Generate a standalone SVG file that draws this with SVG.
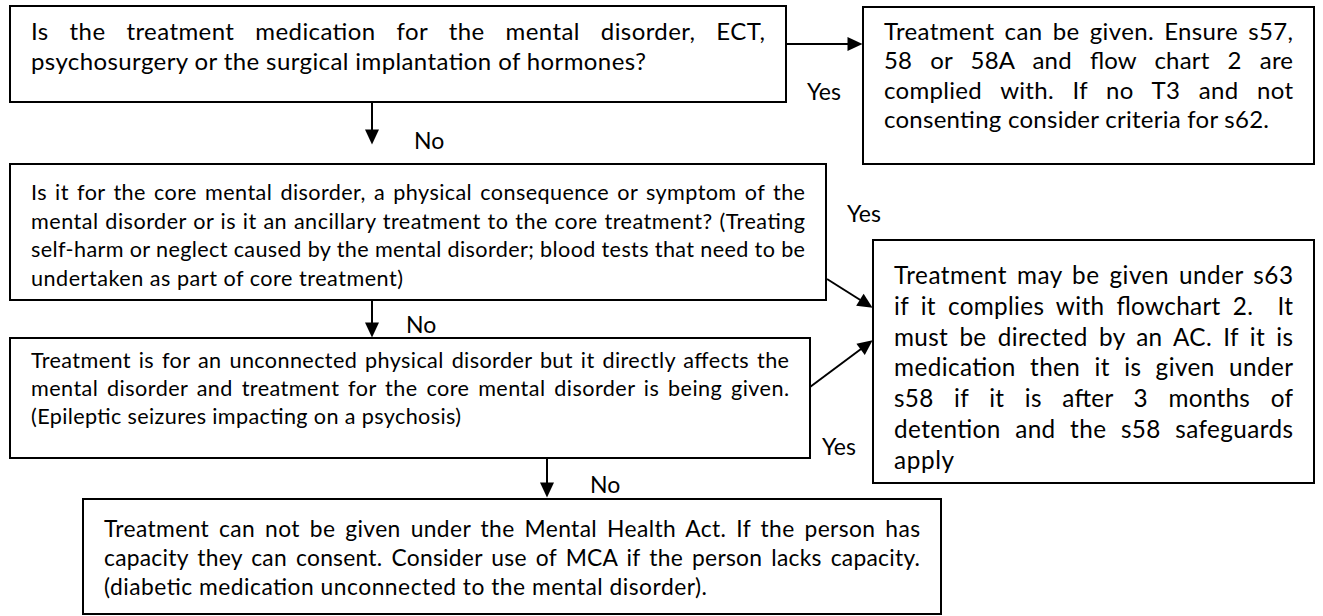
<svg xmlns="http://www.w3.org/2000/svg" width="1323" height="616" viewBox="0 0 1323 616">
<defs>
<style>
.box{fill:#fff;stroke:#000;stroke-width:2}
.t{font-family:Lato,"Liberation Sans",sans-serif;font-size:23px;fill:#000}
.b1{font-size:24px}
.b3{font-size:21.6px}
.b4{font-size:24.3px}
.b6{font-size:22.8px}
.conn{stroke:#000;stroke-width:2;fill:none;marker-end:url(#ah)}
</style>
<marker id="ah" markerUnits="userSpaceOnUse" markerWidth="16" markerHeight="14" refX="0.5" refY="7" orient="auto" overflow="visible">
<path d="M0,0 L15,7 L0,14 z" fill="#000"/>
</marker>
</defs>
<rect width="1323" height="616" fill="#fff"/>
<g id="connectors">
<path class="conn" d="M786,44 L848,44"/>
<path class="conn" d="M372,102 L372,130"/>
<path class="conn" d="M372,300 L372,323"/>
<path class="conn" d="M827,279 L860.3,300"/>
<path class="conn" d="M810,387 L861,349"/>
<path class="conn" d="M547,458 L547,483"/>
<text class="t" x="807" y="100">Yes</text>
<text class="t" x="414" y="149">No</text>
<text class="t" x="847" y="222">Yes</text>
<text class="t" x="406" y="333">No</text>
<text class="t" x="822" y="455">Yes</text>
<text class="t" x="590" y="493">No</text>
</g>
<g id="n1">
<rect class="box" x="10" y="6" width="776" height="96"/>
<text class="t b1" x="31" y="40" textLength="734" lengthAdjust="spacing" style="word-spacing:14.4px">Is the treatment medication for the mental disorder, ECT,</text>
<text class="t b1" x="31" y="69.5" textLength="615" lengthAdjust="spacing">psychosurgery or the surgical implantation of hormones?</text>
</g>
<g id="n2">
<rect class="box" x="863" y="7" width="451" height="157"/>
<text class="t b1" x="884" y="40" textLength="409" lengthAdjust="spacing" style="word-spacing:3.7px">Treatment can be given. Ensure s57,</text>
<text class="t b1" x="884" y="69.3" textLength="409" lengthAdjust="spacing" style="word-spacing:11.8px">58 or 58A and flow chart 2 are</text>
<text class="t b1" x="884" y="98.6" textLength="409" lengthAdjust="spacing" style="word-spacing:12.1px">complied with. If no T3 and not</text>
<text class="t b1" x="884" y="127.9" textLength="385" lengthAdjust="spacing">consenting consider criteria for s62.</text>
</g>
<g id="n3">
<rect class="box" x="10" y="164" width="816" height="136"/>
<text class="t b3" x="31" y="200" textLength="774" lengthAdjust="spacing" style="word-spacing:2.3px">Is it for the core mental disorder, a physical consequence or symptom of the</text>
<text class="t b3" x="31" y="228.5" textLength="774" lengthAdjust="spacing" style="word-spacing:0.7px">mental disorder or is it an ancillary treatment to the core treatment? (Treating</text>
<text class="t b3" x="31" y="257" textLength="774" lengthAdjust="spacing">self-harm or neglect caused by the mental disorder; blood tests that need to be</text>
<text class="t b3" x="31" y="285.5" textLength="372" lengthAdjust="spacing">undertaken as part of core treatment)</text>
</g>
<g id="n4">
<rect class="box" x="873" y="240" width="441" height="243"/>
<text class="t b4" x="894" y="284" textLength="399" lengthAdjust="spacing" style="word-spacing:3.2px">Treatment may be given under s63</text>
<text class="t b4" x="894" y="314.8" textLength="399" lengthAdjust="spacing" style="word-spacing:5.6px;white-space:pre" xml:space="preserve">if it complies with flowchart 2.  It</text>
<text class="t b4" x="894" y="345.6" textLength="399" lengthAdjust="spacing" style="word-spacing:4.8px">must be directed by an AC. If it is</text>
<text class="t b4" x="894" y="376.4" textLength="399" lengthAdjust="spacing" style="word-spacing:7.6px">medication then it is given under</text>
<text class="t b4" x="894" y="407.2" textLength="399" lengthAdjust="spacing" style="word-spacing:14.1px">s58 if it is after 3 months of</text>
<text class="t b4" x="894" y="438" textLength="399" lengthAdjust="spacing" style="word-spacing:7.9px">detention and the s58 safeguards</text>
<text class="t b4" x="894" y="468.8" textLength="60" lengthAdjust="spacing">apply</text>
</g>
<g id="n5">
<rect class="box" x="10" y="338" width="800" height="120"/>
<text class="t b3" x="31" y="368" textLength="758" lengthAdjust="spacing" style="word-spacing:2px">Treatment is for an unconnected physical disorder but it directly affects the</text>
<text class="t b3" x="31" y="396" textLength="758" lengthAdjust="spacing" style="word-spacing:2.8px">mental disorder and treatment for the core mental disorder is being given.</text>
<text class="t b3" x="31" y="424" textLength="430" lengthAdjust="spacing">(Epileptic seizures impacting on a psychosis)</text>
</g>
<g id="n6">
<rect class="box" x="83" y="499" width="858" height="115"/>
<text class="t b6" x="104" y="537" textLength="816" lengthAdjust="spacing" style="word-spacing:3.7px">Treatment can not be given under the Mental Health Act. If the person has</text>
<text class="t b6" x="104" y="566" textLength="816" lengthAdjust="spacing" style="word-spacing:3px">capacity they can consent. Consider use of MCA if the person lacks capacity.</text>
<text class="t b6" x="104" y="595" textLength="603" lengthAdjust="spacing">(diabetic medication unconnected to the mental disorder).</text>
</g>
</svg>
